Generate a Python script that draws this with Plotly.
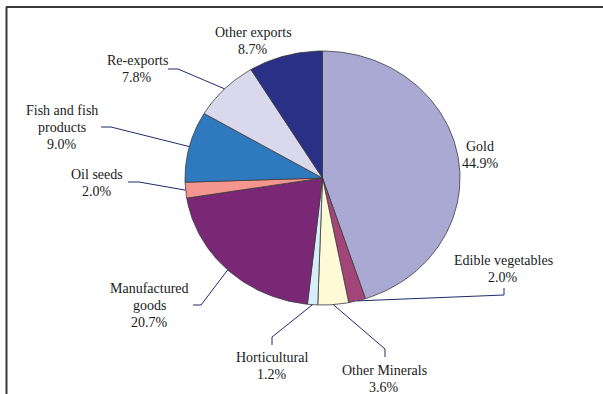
import numpy as np
import plotly.graph_objects as go

# Export shares (%), clockwise from 12 o'clock
categories = ["Gold", "Edible vegetables", "Other Minerals", "Horticultural",
              "Manufactured goods", "Oil seeds", "Fish and fish products",
              "Re-exports", "Other exports"]
shares = [44.9, 2.0, 3.6, 1.2, 20.7, 2.0, 9.0, 7.8, 8.7]
label_lines = [["Gold"], ["Edible vegetables"], ["Other Minerals"], ["Horticultural"],
               ["Manufactured", "goods"], ["Oil seeds"], ["Fish and fish", "products"],
               ["Re-exports"], ["Other exports"]]
colors = ["#A9A9D4", "#A4457A", "#FFFAD6", "#D6EEF7", "#7A2775",
          "#F5958F", "#2F7ABF", "#D9D8EC", "#2B3087"]

# Pie geometry (pixel-like data units, y grows downward)
CX, CY, RX, RY = 322.5, 178.0, 137.5, 127.0
LINE_GAP = 17

# Label block centres and leader line elbows (None = no leader)
label_pos = [(480, 154.5), (503, 269), (384, 379), (272, 365.5), (149.5, 305),
             (97, 182.5), (62, 127), (137, 69), (253, 41)]
leader_elbows = [None,
                 [(504, 288), (504, 295)],
                 [(385, 357), (385, 349)],
                 [(272, 345), (272, 337)],
                 [(193, 305), (201, 305)],
                 [(128, 182), (139, 182)],
                 [(101, 127), (111, 127)],
                 [(168, 69), (178, 69)],
                 None]

SERIF = "Liberation Serif, Times New Roman, DejaVu Serif, serif"


def ellipse_point(frac):
    theta = 2 * np.pi * frac
    return CX + RX * np.sin(theta), CY - RY * np.cos(theta)


fig = go.Figure()
total = sum(shares)
start = 0.0
mids = []
for name, v, c in zip(categories, shares, colors):
    f0, f1 = start / total, (start + v) / total
    ts = np.linspace(f0, f1, max(4, int(v * 4)))
    xs, ys = ellipse_point(ts)
    px = np.concatenate([[CX], xs, [CX]])
    py = np.concatenate([[CY], ys, [CY]])
    fig.add_trace(go.Scatter(x=px, y=py, mode="lines", fill="toself",
                             fillcolor=c, line=dict(color="#3c3c3c", width=0.8),
                             name=name, hoverinfo="name", showlegend=False))
    mids.append((f0 + f1) / 2)
    start += v

# Leader lines from slice edge to label elbow
for mid, elbow in zip(mids, leader_elbows):
    if elbow is None:
        continue
    ex, ey = ellipse_point(mid)
    xs = [elbow[0][0], elbow[1][0], ex]
    ys = [elbow[0][1], elbow[1][1], ey]
    fig.add_trace(go.Scatter(x=xs, y=ys, mode="lines",
                             line=dict(color="#1F2A6B", width=1),
                             hoverinfo="skip", showlegend=False))

# Category name lines followed by the share line, tightly spaced
for lines, v, (lx, ly) in zip(label_lines, shares, label_pos):
    rows = lines + [f"{v:.1f}%"]
    y0 = ly - (len(rows) - 1) * LINE_GAP / 2
    for i, row in enumerate(rows):
        fig.add_annotation(x=lx, y=y0 + i * LINE_GAP, xref="x", yref="y",
                           showarrow=False, text=row, align="center",
                           xanchor="center", yanchor="middle",
                           font=dict(family=SERIF, size=14, color="#1a1a1a"))

# Outer frame (left and top edges)
fig.add_shape(type="line", xref="paper", yref="paper", x0=6.5 / 603, x1=6.5 / 603,
              y0=1 - 7 / 394, y1=0, line=dict(color="#3a3a3a", width=2))
fig.add_shape(type="line", xref="paper", yref="paper", x0=6 / 603, x1=1,
              y0=1 - 7 / 394, y1=1 - 7 / 394, line=dict(color="#3a3a3a", width=2))

fig.update_xaxes(range=[0, 603], visible=False, fixedrange=True)
fig.update_yaxes(range=[394, 0], visible=False, fixedrange=True)
fig.update_layout(width=603, height=394, margin=dict(l=0, r=0, t=0, b=0),
                  paper_bgcolor="white", plot_bgcolor="white",
                  font=dict(family=SERIF))

fig.write_html("out.html")
